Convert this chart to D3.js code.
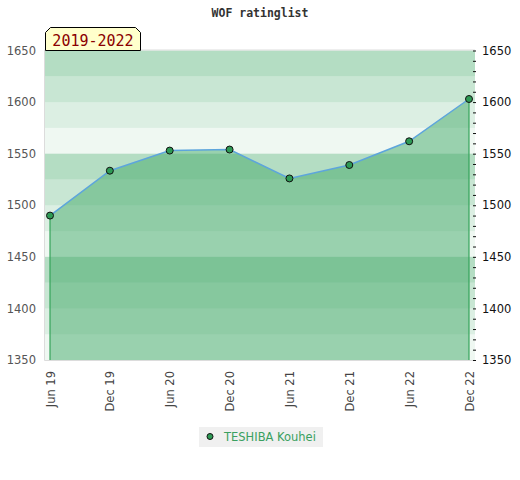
<!DOCTYPE html>
<html>
<head>
<meta charset="utf-8">
<script src="https://cdn.jsdelivr.net/npm/d3@7"></script>
<style>
  body { margin: 0; background: #fff; }
  svg { display: block; }
</style>
</head>
<body>
<div id="chart"></div>
<script>
// data
var periods = ["Jun 19", "Dec 19", "Jun 20", "Dec 20", "Jun 21", "Dec 21", "Jun 22", "Dec 22"];
var ratings = [1490, 1533.5, 1553, 1554, 1526, 1539, 1562, 1603];
var yTicks = [1350, 1400, 1450, 1500, 1550, 1600, 1650];
var playerName = "TESHIBA Kouhei";
var titleText = "WOF ratinglist";
var badgeText = "2019-2022";

var svgWidth = 520;
var svgHeight = 480;

// plot box
var box = { left: 45, right: 475, top: 50.5, bottom: 360 };

var svg = d3.select("#chart")
  .append("svg")
  .attr("width", svgWidth)
  .attr("height", svgHeight);

var x = d3.scalePoint()
  .domain(periods)
  .range([50, 469]);

var y = d3.scaleLinear()
  .domain([1350, 1650])
  .range([box.bottom, box.top]);

var green = "rgb(67,170,105)";

// background bands, 25 points each, four shades per 100
var bands = d3.range(1350, 1650, 25);
svg.selectAll("rect.band")
  .data(bands)
  .enter()
  .append("rect")
  .attr("class", "band")
  .attr("x", box.left)
  .attr("width", box.right - box.left)
  .attr("y", function(d) { return y(d + 25); })
  .attr("height", function(d) { return y(d) - y(d + 25); })
  .attr("fill", green)
  .attr("fill-opacity", function(d) {
    var q = ((d - 1350) / 25) % 4;
    return [0.085, 0.19, 0.29, 0.4][q];
  });

// thin grey frame on left / top / bottom
svg.append("path")
  .attr("d", "M" + (box.right) + "," + (box.top - 0.5) + "H" + (box.left - 0.5) + "V" + (box.bottom + 0.5) + "H" + box.right)
  .attr("fill", "none")
  .attr("stroke", "#dcdcdc")
  .attr("stroke-width", 1);

var pts = periods.map(function(p, i) { return [x(p), y(ratings[i])]; });

// area under the line
var area = d3.area()
  .x(function(d) { return d[0]; })
  .y0(y(1350))
  .y1(function(d) { return d[1]; });

svg.append("path")
  .datum(pts)
  .attr("d", area)
  .attr("fill", green)
  .attr("fill-opacity", 0.5);

// vertical edges of the area
svg.selectAll("line.edge")
  .data([pts[0], pts[pts.length - 1]])
  .enter()
  .append("line")
  .attr("class", "edge")
  .attr("x1", function(d) { return d[0]; })
  .attr("x2", function(d) { return d[0]; })
  .attr("y1", function(d) { return d[1]; })
  .attr("y2", y(1350))
  .attr("stroke", "#34a35a")
  .attr("stroke-width", 1.2);

svg.append("path")
  .datum(pts)
  .attr("d", d3.line())
  .attr("fill", "none")
  .attr("stroke", "#5da5dc")
  .attr("stroke-width", 1.5);

svg.selectAll("circle.pt")
  .data(pts)
  .enter()
  .append("circle")
  .attr("class", "pt")
  .attr("cx", function(d) { return d[0]; })
  .attr("cy", function(d) { return d[1]; })
  .attr("r", 3.5)
  .attr("fill", "#2e9a55")
  .attr("stroke", "#111")
  .attr("stroke-width", 1);

var fmt = d3.format("d");

// left axis labels (no ticks)
svg.append("g")
  .attr("transform", "translate(" + (box.left - 9) + ",0)")
  .call(d3.axisLeft(y).tickValues(yTicks).tickSize(0).tickPadding(0).tickFormat(fmt))
  .call(function(g) {
    g.select(".domain").remove();
    g.selectAll("text")
      .attr("fill", "#555")
      .style("font-family", "DejaVu Sans")
      .style("font-size", "11.5px");
  });

// right axis: minor ticks every 10, labels at 50
var rightAxis = svg.append("g")
  .attr("transform", "translate(" + (box.right + 1) + ",0)");

rightAxis.call(d3.axisRight(y).tickValues(d3.range(1350, 1651, 10)).tickSize(3).tickFormat(""))
  .call(function(g) {
    g.select(".domain").remove();
    g.selectAll("line").attr("stroke", "#111").attr("transform", "translate(-3,0)");
  });

svg.append("g")
  .attr("transform", "translate(" + (box.right + 7) + ",0)")
  .call(d3.axisRight(y).tickValues(yTicks).tickSize(0).tickPadding(0).tickFormat(fmt))
  .call(function(g) {
    g.select(".domain").remove();
    g.selectAll("text")
      .attr("fill", "#111")
      .style("font-family", "DejaVu Sans")
      .style("font-size", "11.5px");
  });

// bottom axis, rotated labels
svg.append("g")
  .attr("transform", "translate(0," + (box.bottom + 11) + ")")
  .call(d3.axisBottom(x).tickSize(0).tickPadding(0))
  .call(function(g) {
    g.select(".domain").remove();
    g.selectAll("text")
      .attr("fill", "#444")
      .style("font-family", "DejaVu Sans")
      .style("font-size", "11.5px")
      .attr("text-anchor", "end")
      .attr("dy", "0.35em")
      .attr("transform", "rotate(-90)")
      .attr("x", 0)
      .attr("y", 0);
  });

// title
svg.append("text")
  .attr("x", 260)
  .attr("y", 17)
  .attr("text-anchor", "middle")
  .attr("fill", "#333")
  .style("font-family", "DejaVu Sans Mono")
  .style("font-weight", "bold")
  .style("font-size", "11.5px")
  .text(titleText);

// period badge with clipped top corners
var bx0 = 45.5, bx1 = 140.5, by0 = 27.5, by1 = 50.5, c = 5;
svg.append("path")
  .attr("d", "M" + bx0 + "," + by1 + "V" + (by0 + c) + "L" + (bx0 + c) + "," + by0 +
    "H" + (bx1 - c) + "L" + bx1 + "," + (by0 + c) + "V" + by1 + "Z")
  .attr("fill", "#ffffcc")
  .attr("stroke", "#000")
  .attr("stroke-width", 1);

svg.append("text")
  .attr("x", (bx0 + bx1) / 2)
  .attr("y", 45.5)
  .attr("text-anchor", "middle")
  .attr("fill", "#8b0000")
  .style("font-family", "DejaVu Sans Mono")
  .style("font-size", "15px")
  .text(badgeText);

// legend
var legend = svg.append("g").attr("transform", "translate(199,427)");
legend.append("rect")
  .attr("width", 124)
  .attr("height", 20)
  .attr("fill", "#f0f0f0");
legend.append("circle")
  .attr("cx", 11)
  .attr("cy", 9.5)
  .attr("r", 3)
  .attr("fill", "#2e9a55")
  .attr("stroke", "#111")
  .attr("stroke-width", 1);
legend.append("text")
  .attr("x", 25)
  .attr("y", 14)
  .attr("fill", "#3aa060")
  .style("font-family", "DejaVu Sans")
  .style("font-size", "11.5px")
  .text(playerName);
</script>
</body>
</html>
